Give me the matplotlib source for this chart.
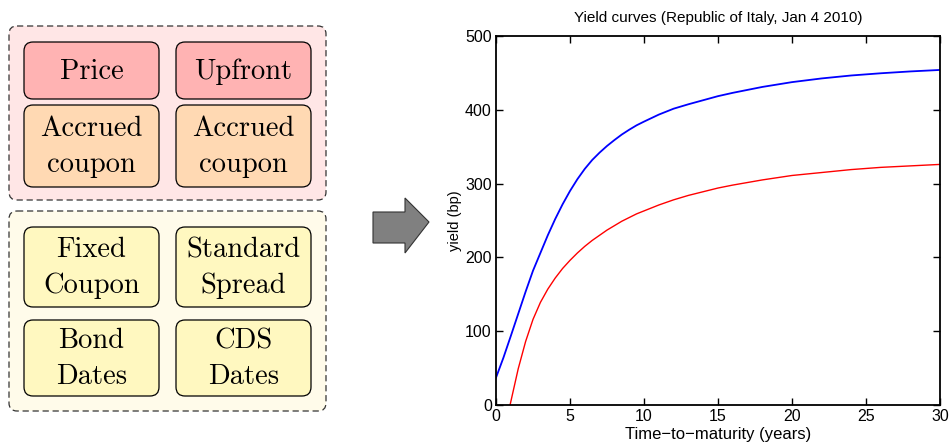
import matplotlib.pyplot as plt
from matplotlib.patches import FancyBboxPatch, Polygon
import numpy as np

# yield curves, bp vs years
t_blue = [0, 0.5, 1, 1.5, 2, 2.5, 3, 3.5, 4, 4.5, 5, 5.5, 6, 6.5, 7, 7.5, 8, 8.5, 9, 9.5,
          10, 11, 12, 13, 14, 15, 16, 18, 20, 22, 24, 26, 28, 30]
y_blue = [37, 64, 93.5, 123.5, 153.5, 182, 206, 230, 252, 272, 290, 306, 320, 332, 342, 351, 359, 366.5, 373, 379,
          384, 393.5, 401.5, 407.5, 413, 418.5, 423, 431, 437.5, 442.5, 446.5, 449.5, 452, 454]
t_red = [0.95, 1.5, 2, 2.5, 3, 3.5, 4, 4.5, 5, 5.5, 6, 6.5, 7, 7.5, 8, 8.5, 9, 9.5,
         10, 11, 12, 13, 14, 15, 16, 18, 20, 22, 24, 26, 28, 30]
y_red = [0, 49, 86, 116, 139, 157, 172, 185, 196, 206, 215, 223, 230, 237, 243, 249, 254, 259,
         263, 271, 278, 284, 289, 294, 298, 305, 311, 315, 319, 322, 324, 326]

top_labels = ['Price', 'Upfront', 'Accrued\ncoupon', 'Accrued\ncoupon']
bottom_labels = ['Fixed\nCoupon', 'Standard\nSpread', 'Bond\nDates', 'CDS\nDates']

W, H = 951, 446
fig = plt.figure(figsize=(W / 100, H / 100), dpi=100)

# left diagram drawn in pixel coordinates (y down)
lay = fig.add_axes([0, 0, 1, 1])
lay.set_xlim(0, W)
lay.set_ylim(H, 0)
lay.axis('off')


def rbox(x0, y0, x1, y1, fc, ls='-', r=10, lw=0.9, ec='black'):
    p = FancyBboxPatch((x0 + r, y0 + r), x1 - x0 - 2 * r, y1 - y0 - 2 * r,
                       boxstyle='round,pad=%g' % r, fc=fc, ec=ec, lw=lw, ls=ls)
    lay.add_patch(p)


rbox(9, 26, 326, 200, '#ffe6e6', ls=(0, (5, 3)), r=8, ec='#333333')
rbox(9, 211, 326, 411, '#fffbea', ls=(0, (5, 3)), r=8, ec='#333333')

cols = [(24, 159), (176, 311)]
top_rows = [(42, 99, '#ffb3b3'), (105, 187, '#ffd9b3')]
bot_rows = [(227, 307, '#fff8c0'), (320, 396, '#fff8c0')]

for rows, labels in [(top_rows, top_labels), (bot_rows, bottom_labels)]:
    k = 0
    for (y0, y1, fc) in rows:
        for (x0, x1) in cols:
            rbox(x0, y0, x1, y1, fc, r=9)
            lay.text((x0 + x1) / 2, (y0 + y1) / 2 + 1, labels[k], ha='center', va='center',
                     fontfamily='cmr10', fontsize=20.5, linespacing=1.45)
            k += 1

# arrow
arrow = Polygon([(373, 212), (405, 212), (405, 198), (429, 222), (405, 253),
                 (405, 243), (373, 243)], closed=True, fc='#808080', ec='#333333', lw=0.8)
lay.add_patch(arrow)

# yield curve plot
plt.rcParams['font.family'] = ['Liberation Sans', 'DejaVu Sans']
ax = fig.add_axes([496 / W, 1 - 405 / H, 444 / W, 369 / H])
ax.plot(t_blue, y_blue, color='#0000ff', lw=1.3)
ax.plot(t_red, y_red, color='#ff0000', lw=1.0)
ax.set_xlim(0, 30)
ax.set_ylim(0, 500)
ax.set_xticks(np.arange(0, 31, 5))
ax.set_yticks(np.arange(0, 501, 100))
ax.tick_params(direction='in', top=True, right=True, length=5, width=1.0,
               labelsize=11.5, pad=3)
for s in ax.spines.values():
    s.set_linewidth(1.3)
ax.set_title('Yield curves (Republic of Italy, Jan 4 2010)', fontsize=11, pad=10)
ax.set_xlabel('Time\u2212to\u2212maturity (years)', fontsize=12, labelpad=2)
ax.set_ylabel('yield (bp)', fontsize=10.5, labelpad=2)

fig.savefig('out.png', dpi=100)
